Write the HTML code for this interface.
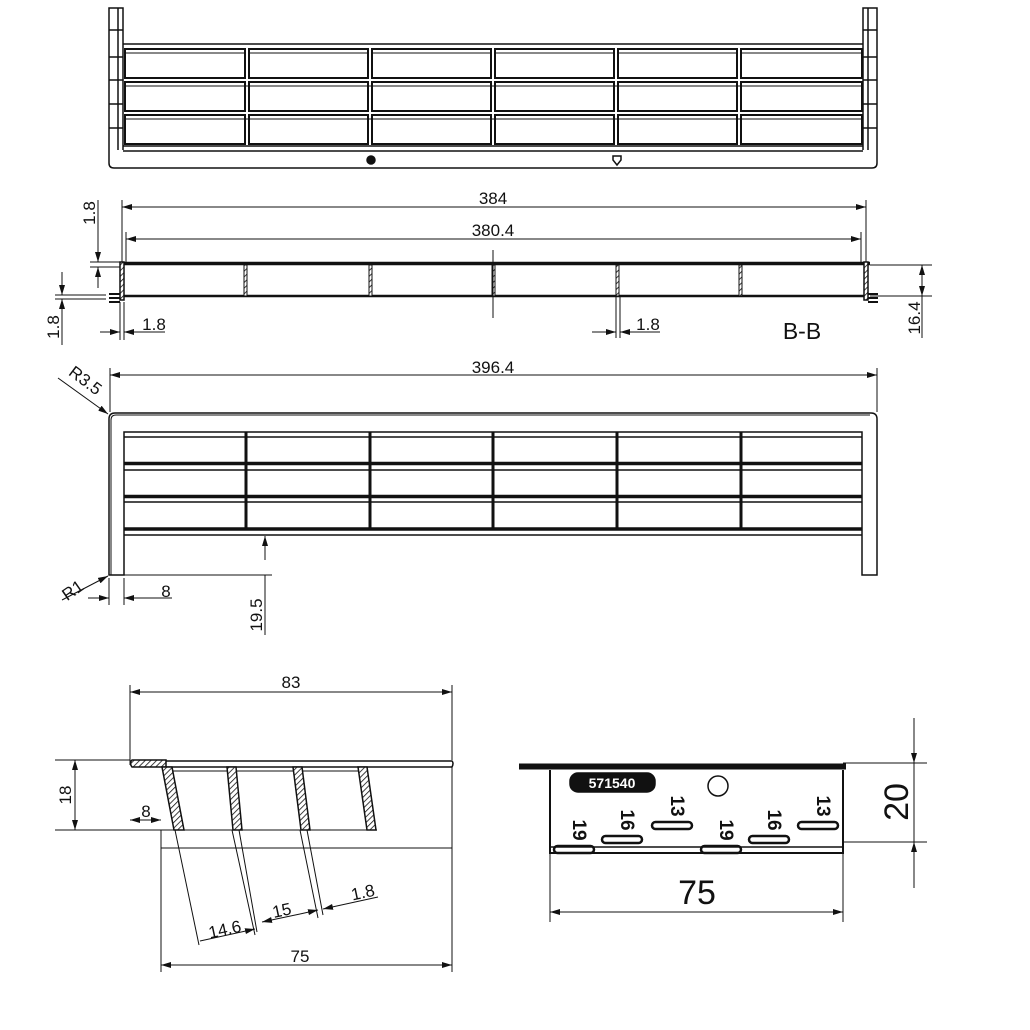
<!DOCTYPE html>
<html><head><style>html,body{margin:0;padding:0;background:#fff}svg{display:block}text{font-family:"Liberation Sans",sans-serif;fill:#111}</style></head><body>
<svg width="1030" height="1030" viewBox="0 0 1030 1030" xmlns="http://www.w3.org/2000/svg">
<defs>
<marker id="a" viewBox="0 0 10 6" refX="10" refY="3" markerWidth="10" markerHeight="6" orient="auto-start-reverse" markerUnits="userSpaceOnUse"><path d="M0,0L10,3L0,6z" fill="#111"/></marker>
<pattern id="h" width="4" height="4" patternUnits="userSpaceOnUse" patternTransform="rotate(45)"><rect width="4" height="4" fill="#fff"/><line x1="0" y1="0" x2="0" y2="4" stroke="#111" stroke-width="1.6"/></pattern>
</defs>
<g fill="none" stroke="#111" stroke-width="1.5">
<!-- TOP VIEW -->
<path d="M109,150 V8 H123 V150 M863,150 V8 H877 V150"/>
<path d="M118,8 V150 M868,8 V150"/>
<path d="M109,30 h14 M109,57 h14 M109,80 h14 M109,104 h14 M109,128 h14 M863,30 h14 M863,57 h14 M863,80 h14 M863,104 h14 M863,128 h14"/>
<path d="M109,150 V163 Q109,168 114,168 H872 Q877,168 877,163 V150"/>
<path d="M123,44 H863 M123,146 H863 M123,151 H863"/>
<g stroke-width="2">
<rect x="125" y="49" width="120" height="29"/><rect x="249" y="49" width="119" height="29"/><rect x="372" y="49" width="119" height="29"/><rect x="495" y="49" width="119" height="29"/><rect x="618" y="49" width="119" height="29"/><rect x="741" y="49" width="121" height="29"/>
<rect x="125" y="82" width="120" height="29"/><rect x="249" y="82" width="119" height="29"/><rect x="372" y="82" width="119" height="29"/><rect x="495" y="82" width="119" height="29"/><rect x="618" y="82" width="119" height="29"/><rect x="741" y="82" width="121" height="29"/>
<rect x="125" y="115" width="120" height="29"/><rect x="249" y="115" width="119" height="29"/><rect x="372" y="115" width="119" height="29"/><rect x="495" y="115" width="119" height="29"/><rect x="618" y="115" width="119" height="29"/><rect x="741" y="115" width="121" height="29"/>
</g>
<path d="M125,53 H245 M249,53 H368 M372,53 H491 M495,53 H614 M618,53 H737 M741,53 H862 M125,86 H862 M125,119 H862" stroke-width="1"/>
<circle cx="371" cy="160" r="4" fill="#111"/>
<path d="M613,156 h8 v4 l-4,5 l-4,-5z" stroke-width="1.5"/>

<!-- B-B SECTION -->
<path d="M122,207 H866" marker-start="url(#a)" marker-end="url(#a)" stroke-width="1"/>
<path d="M126,239 H861" marker-start="url(#a)" marker-end="url(#a)" stroke-width="1"/>
<path d="M122,200 V262 M866,200 V262 M126,232 V262 M861,232 V262" stroke-width="1"/>
<path d="M120,263.5 H870" stroke-width="3.5"/>
<path d="M124,296 H864" stroke-width="2.5"/>
<rect x="120" y="262" width="4" height="38" fill="url(#h)"/>
<rect x="864" y="262" width="4" height="38" fill="url(#h)"/>
<path d="M109,294 h11 M109,298 h11 M109,302 h11 M868,294 h10 M868,298 h10 M868,302 h10" stroke-width="2"/>
<rect x="244" y="265" width="3" height="31" fill="url(#h)" stroke-width="1"/>
<rect x="369" y="265" width="3" height="31" fill="url(#h)" stroke-width="1"/>
<rect x="492" y="265" width="3" height="31" fill="url(#h)" stroke-width="1"/>
<rect x="616" y="265" width="3" height="31" fill="url(#h)" stroke-width="1"/>
<rect x="739" y="265" width="3" height="31" fill="url(#h)" stroke-width="1"/>
<path d="M493,250 V318" stroke-width="1"/>
<g stroke-width="1">
<path d="M90,262 H120 M90,267 H120"/>
<path d="M98,200 V262" marker-end="url(#a)"/><path d="M98,288 V267" marker-end="url(#a)"/>
<path d="M55,295 H106 M55,299 H106"/>
<path d="M62,272 V295" marker-end="url(#a)"/><path d="M62,345 V299" marker-end="url(#a)"/>
<path d="M120,302 V340 M124,302 V340"/>
<path d="M100,332 H120" marker-end="url(#a)"/><path d="M165,332 H124" marker-end="url(#a)"/>
<path d="M616,296 V338 M620,296 V338"/>
<path d="M592,332 H616" marker-end="url(#a)"/><path d="M660,332 H620" marker-end="url(#a)"/>
<path d="M870,265 H932 M870,296 H932"/>
<path d="M922,296 V265" marker-end="url(#a)" marker-start="url(#a)"/><path d="M922,296 V338"/>
</g>

<!-- FRONT VIEW -->
<path d="M110,375 H877" stroke-width="1" marker-start="url(#a)" marker-end="url(#a)"/>
<path d="M110,368 V412 M877,368 V412" stroke-width="1"/>
<path d="M109,575 V419 Q109,413 115,413 H871 Q877,413 877,419 V575 H862 V432 H124 V575 Z" stroke-width="1.5"/>
<path d="M111,575 V420 Q111,415 116,415 H870" stroke-width="1"/>
<path d="M124,437 H862 M124,470 H862 M124,502 H862 M124,535 H862" stroke-width="1.5"/>
<path d="M124,463.5 H862 M124,496.5 H862 M124,529 H862" stroke-width="3.5"/>
<path d="M246,432 V528 M370,432 V528 M493,432 V528 M617,432 V528 M741,432 V528" stroke-width="3"/>
<g stroke-width="1">
<path d="M124,575 H272"/>
<path d="M265,635 V575 M265,560 V538" /><path d="M265,560 V536" marker-end="url(#a)"/>
<path d="M109,578 V605 M124,578 V605"/>
<path d="M88,598 H109" marker-end="url(#a)"/><path d="M172,598 H124" marker-end="url(#a)"/>
<path d="M62,600 L108,576" marker-end="url(#a)"/>
<path d="M58,378 L108,414" marker-end="url(#a)"/>
</g>

<!-- BOTTOM-LEFT SECTION -->
<g stroke-width="1">
<path d="M130,692 H452" marker-start="url(#a)" marker-end="url(#a)"/>
<path d="M130,685 V765 M452,685 V760 M452,767 V972 M161,830 V972"/>
<path d="M55,760 H130 M55,830 H377 M161,848 H452"/>
<path d="M75,760 V830" marker-start="url(#a)" marker-end="url(#a)"/>
<path d="M130,820 H161" marker-start="url(#a)" marker-end="url(#a)"/>
<path d="M161,965 H452" marker-start="url(#a)" marker-end="url(#a)"/>
<path d="M175,830 L199,945 M232,830 L255,935 M239,830 L257,932 M300,830 L318,918 M307,830 L323,915"/>
<path d="M200,941 L255,929" marker-end="url(#a)"/>
<path d="M262,922 L300,914" marker-start="url(#a)"/><path d="M300,914 L318,910" marker-end="url(#a)"/>
<path d="M378,897 L323,909" marker-end="url(#a)"/>
</g>
<path d="M130,761 H452 Q454,763 452,767 H165" stroke-width="1.5"/>
<path d="M165,767 H365 M165,771 H365" stroke-width="1"/>
<path d="M132,760 H166 L166,767 H132 Q129,763 132,760Z" fill="url(#h)" stroke-width="1.5"/>
<path d="M162,767 L172,767 L184,830 L174,830Z" fill="url(#h)" stroke-width="1.5"/>
<path d="M227,767 L236,767 L242,830 L233,830Z" fill="url(#h)" stroke-width="1.5"/>
<path d="M293,767 L302,767 L310,830 L301,830Z" fill="url(#h)" stroke-width="1.5"/>
<path d="M358,767 L367,767 L376,830 L367,830Z" fill="url(#h)" stroke-width="1.5"/>

<!-- RIGHT VIEW -->
<path d="M519,766.5 H846" stroke-width="6"/>
<path d="M550,770 V853 H843 V770" stroke-width="2"/>
<path d="M550,847 H843" stroke-width="1.5"/>
<rect x="570" y="773" width="85" height="19" rx="8" fill="#111"/>
<circle cx="718" cy="786" r="10" stroke-width="1.5"/>
<g stroke-width="2.5">
<rect x="554" y="846" width="40" height="7" rx="3.5"/>
<rect x="602" y="836" width="40" height="7" rx="3.5"/>
<rect x="652" y="822" width="40" height="7" rx="3.5"/>
<rect x="701" y="846" width="40" height="7" rx="3.5"/>
<rect x="749" y="836" width="40" height="7" rx="3.5"/>
<rect x="798" y="822" width="40" height="7" rx="3.5"/>
</g>
<g stroke-width="1">
<path d="M843,763 H927 M843,842 H927"/>
<path d="M914,718 V763" marker-end="url(#a)"/><path d="M914,888 V842" marker-end="url(#a)"/><path d="M914,763 V842"/>
<path d="M550,853 V922 M843,853 V922"/>
<path d="M550,912 H843" marker-start="url(#a)" marker-end="url(#a)"/>
</g>
</g>

<g font-size="17">
<text x="493" y="204" text-anchor="middle">384</text>
<text x="493" y="236" text-anchor="middle">380.4</text>
<text transform="translate(95,213) rotate(-90)" text-anchor="middle">1.8</text>
<text transform="translate(59,327) rotate(-90)" text-anchor="middle">1.8</text>
<text x="154" y="330" text-anchor="middle">1.8</text>
<text x="648" y="330" text-anchor="middle">1.8</text>
<text x="802" y="339" text-anchor="middle" font-size="23">B-B</text>
<text transform="translate(920,318) rotate(-90)" text-anchor="middle">16.4</text>
<text x="493" y="373" text-anchor="middle">396.4</text>
<text transform="translate(82,385) rotate(37)" text-anchor="middle">R3.5</text>
<text transform="translate(76,595) rotate(-35)" text-anchor="middle">R1</text>
<text x="166" y="597" text-anchor="middle">8</text>
<text transform="translate(262,615) rotate(-90)" text-anchor="middle">19.5</text>
<text x="291" y="688" text-anchor="middle">83</text>
<text transform="translate(71,795) rotate(-90)" text-anchor="middle">18</text>
<text x="146" y="817" text-anchor="middle">8</text>
<text transform="translate(226,935) rotate(-12)" text-anchor="middle">14.6</text>
<text transform="translate(283,916) rotate(-12)" text-anchor="middle">15</text>
<text transform="translate(364,898) rotate(-12)" text-anchor="middle">1.8</text>
<text x="300" y="962" text-anchor="middle">75</text>
<text x="612" y="788" text-anchor="middle" font-size="14" font-weight="bold" style="fill:#fff">571540</text>
<text transform="translate(573,830) rotate(90)" text-anchor="middle" font-size="19" font-weight="bold">19</text>
<text transform="translate(621,820) rotate(90)" text-anchor="middle" font-size="19" font-weight="bold">16</text>
<text transform="translate(671,806) rotate(90)" text-anchor="middle" font-size="19" font-weight="bold">13</text>
<text transform="translate(720,830) rotate(90)" text-anchor="middle" font-size="19" font-weight="bold">19</text>
<text transform="translate(768,820) rotate(90)" text-anchor="middle" font-size="19" font-weight="bold">16</text>
<text transform="translate(817,806) rotate(90)" text-anchor="middle" font-size="19" font-weight="bold">13</text>
<text transform="translate(908,802) rotate(-90)" text-anchor="middle" font-size="34">20</text>
<text x="697" y="904" text-anchor="middle" font-size="34">75</text>
</g>
</svg>
</body></html>
